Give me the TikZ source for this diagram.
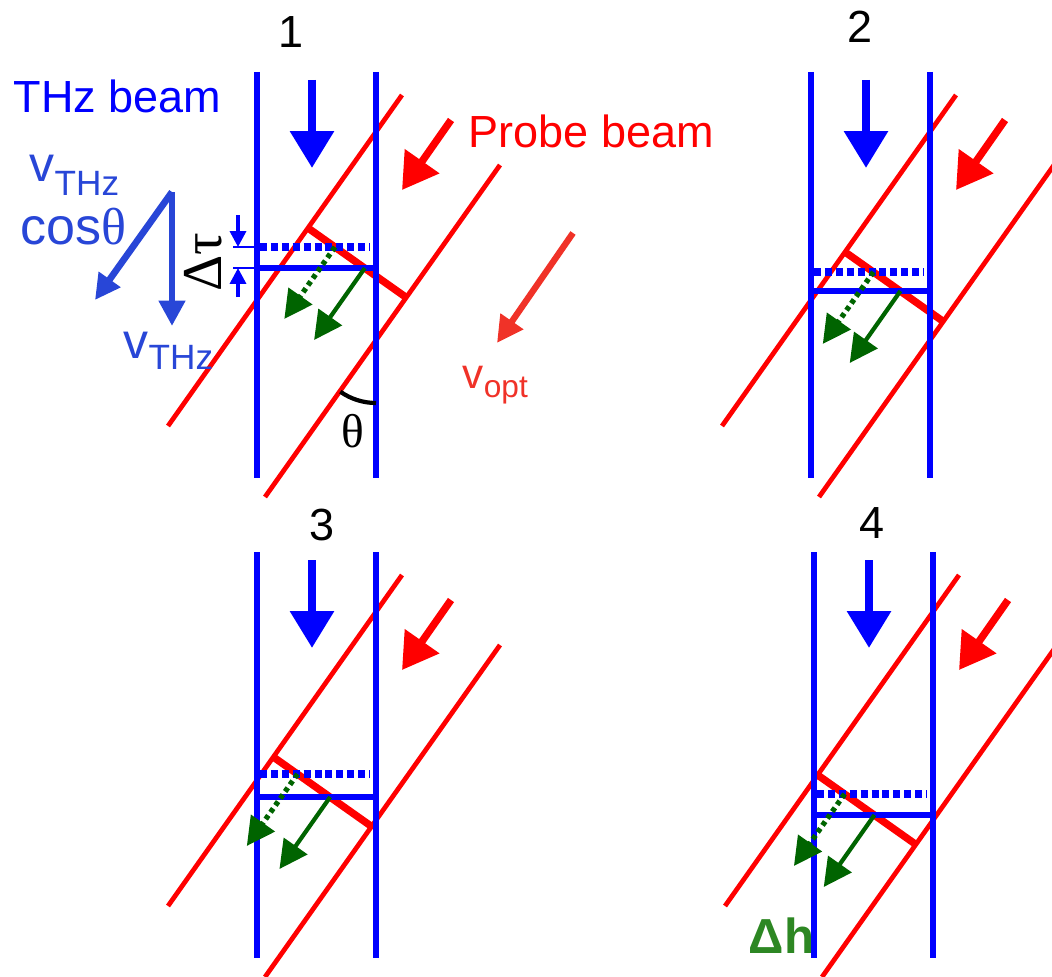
\documentclass[tikz,border=0pt]{standalone}
\usepackage{fontspec}
\setmainfont{Liberation Sans}
\newfontfamily\grk{Liberation Serif}
\usepackage{xcolor}
\usetikzlibrary{arrows.meta,calc}

\definecolor{velblue}{RGB}{40,70,215}
\definecolor{optred}{RGB}{240,50,40}
\definecolor{darkgreen}{RGB}{0,100,0}
\definecolor{dhgreen}{RGB}{45,135,35}

\begin{document}
\begin{tikzpicture}[
    x=0.01cm, y=-0.01cm,
    beam/.style={blue, line width=1.5pt},
    probe/.style={red, line width=1.35pt},
    front/.style={red, line width=2.1pt},
    pulse/.style={blue, line width=1.9pt},
    pulsedot/.style={blue, line width=2.1pt, dash pattern=on 2pt off 1.1pt},
    prop/.style={-{Triangle[length=8pt,width=8pt]}, darkgreen, line width=1.2pt},
    bigarr/.style={-{Triangle[length=10.5pt,width=12pt]}},
    vel/.style={-{Triangle[length=7.2pt,width=7.2pt]}, velblue, line width=1.9pt},
    lbl/.style={inner sep=0pt, font=\fontsize{12.8}{14}\selectfont},
]
    \useasboundingbox (0,0) rectangle (1052,976);

    % the four snapshots
    \foreach \dx/\dy/\s/\hd/\hs in {0/0/228/247/268, 554/0/252/272/291,
                                   0/480/277/294/317, 557/480/295/314/335} {
      \begin{scope}[shift={(\dx,\dy)}]
        \pgfmathsetmacro\xu{168+(426-\s)*0.707}
        \pgfmathsetmacro\xa{\xu+(\hd-\s)/0.704}
        \pgfmathsetmacro\xb{\xu+(\hs-\s)/0.704}
        \draw[probe] (168,426) -- (402,95);
        \draw[probe] (265,497) -- (500,165);
        \draw[front] (\xu,\s) -- ++(99,70);
        \draw[beam] (257,72) -- (257,478);
        \draw[beam] (376,72) -- (376,478);
        \draw[bigarr, blue, line width=2.4pt] (312,80) -- (312,168);
        \draw[-{Triangle[length=10pt,width=11.5pt]}, red, line width=2.1pt] (451,120) -- (402,190);
        \draw[pulsedot] (260,\hd) -- (370,\hd);
        \draw[pulse] (257,\hs) -- (376,\hs);
        \draw[prop, dash pattern=on 1.3pt off 1.1pt, line width=1.5pt] (\xa,\hd) -- ++(-50.7,72);
        \draw[prop] (\xb,\hs) -- ++(-50.7,72);
      \end{scope}
    }

    \node[lbl, anchor=base] (n1) at (291,48) {1};
    \node[lbl, anchor=base] (n2) at (860,43) {2};
    \node[lbl, anchor=base] (n3) at (322,540) {3};
    \node[lbl, anchor=base] (n4) at (872,538) {4};

    \node[lbl, blue, anchor=base west] (thz) at (13,113) {THz beam};
    \node[lbl, red, anchor=base west] (prb) at (468,147) {Probe beam};

    % velocity triangle
    \coordinate (vtop) at (172,192);
    \draw[vel] (vtop) -- (172,326);
    \draw[vel] (vtop) -- (95,300);
    \node[lbl, velblue, anchor=base west] (vcos) at (29,182)
        {\fontsize{14.2}{15}\selectfont v\raisebox{-3.7pt}{\fontsize{10}{10}\selectfont THz}};
    \node[lbl, velblue, anchor=base west] (cos) at (20,245)
        {\fontsize{14.8}{15}\selectfont cos{\grk θ}};
    \node[lbl, velblue, anchor=base west] (vthz) at (123,358)
        {\fontsize{14.2}{15}\selectfont v\raisebox{-3.4pt}{\fontsize{10}{10}\selectfont THz}};

    % delay between the two fronts
    \draw[blue, line width=0.45pt] (233,247) -- (257,247) (233,268) -- (257,268);
    \draw[-{Triangle[length=4.5pt,width=4.5pt]}, blue, line width=1pt] (238,215) -- (238,247);
    \draw[-{Triangle[length=4.5pt,width=4.5pt]}, blue, line width=1pt] (238,297) -- (238,268);
    \node[inner sep=0pt, rotate=90, font=\grk\fontsize{16}{16}\selectfont] (dtau) at (203,262) {Δτ};

    % angle
    \draw[line width=1.2pt] (376,403) arc[start angle=-90, end angle=-125.2, radius=17.6pt];
    \node[inner sep=0pt, anchor=base, font=\grk\fontsize{13.5}{14}\selectfont] (th) at (353,447) {θ};

    % optical velocity
    \draw[-{Triangle[length=7.5pt,width=7.5pt]}, optred, line width=1.8pt] (573,233) -- (497,343);
    \node[lbl, optred, anchor=base west] (vopt) at (462,388)
        {\fontsize{12}{13}\selectfont v\raisebox{-2.8pt}{\fontsize{9}{10}\selectfont opt}};

    \node[inner sep=0pt, anchor=base west, dhgreen, font=\bfseries\fontsize{14}{14}\selectfont] (dh) at (748,953) {Δh};
\end{tikzpicture}
\end{document}
